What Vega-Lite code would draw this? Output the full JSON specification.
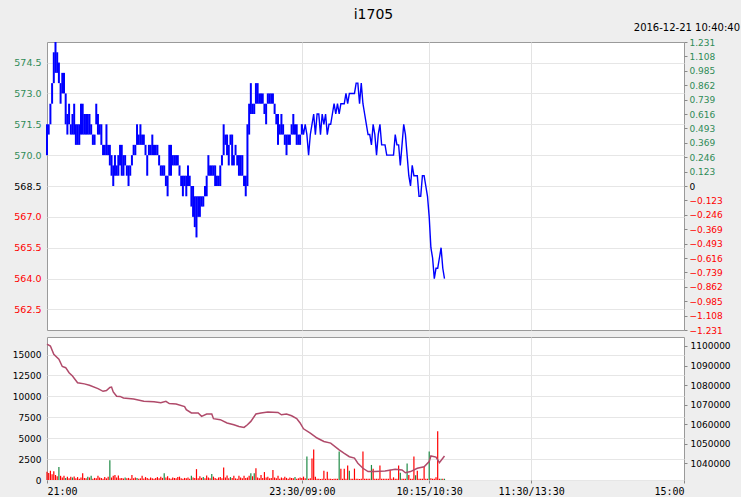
{
  "$schema": "https://vega.github.io/schema/vega-lite/v6.json",
  "background": "#eeeeee",
  "padding": {"left": 6, "top": 7, "right": 0, "bottom": 0},
  "title": {"text": "i1705", "anchor": "middle", "font": "DejaVu Sans", "fontSize": 14, "fontWeight": "normal", "color": "#000000", "offset": 1},
  "spacing": 0,
  "datasets": {
    "night": [
      {"t":0,"lo":570,"hi":571.5},{"t":1,"lo":571,"hi":571.5},{"t":2,"lo":571.5,"hi":572.5},{"t":3,"lo":572.5,"hi":573.5},
      {"t":4,"lo":573.5,"hi":575},{"t":5,"lo":574,"hi":575.5},{"t":6,"lo":574,"hi":575},{"t":7,"lo":573.5,"hi":574.5},
      {"t":8,"lo":572.5,"hi":573.5},{"t":9,"lo":573,"hi":574},{"t":10,"lo":573,"hi":574},{"t":11,"lo":571.5,"hi":573},
      {"t":12,"lo":571,"hi":572},{"t":13,"lo":571.5,"hi":572.5},{"t":14,"lo":571,"hi":571.5},{"t":15,"lo":571,"hi":572},
      {"t":16,"lo":571,"hi":572.5},{"t":17,"lo":570.5,"hi":571.5},{"t":18,"lo":570.5,"hi":571.5},{"t":19,"lo":570.5,"hi":571.5},
      {"t":20,"lo":571,"hi":572.5},{"t":21,"lo":571,"hi":572.5},{"t":22,"lo":571,"hi":572},{"t":23,"lo":571,"hi":572},
      {"t":24,"lo":571,"hi":572},{"t":25,"lo":571,"hi":572},{"t":26,"lo":571,"hi":571.5},{"t":27,"lo":570.5,"hi":571},
      {"t":28,"lo":570.5,"hi":571},{"t":29,"lo":571.5,"hi":572.5},{"t":30,"lo":571,"hi":572},{"t":31,"lo":571,"hi":571.5},
      {"t":32,"lo":570.5,"hi":571.5},{"t":33,"lo":570,"hi":570.5},{"t":34,"lo":570,"hi":570.5},{"t":35,"lo":570,"hi":571.5},
      {"t":36,"lo":570,"hi":570.5},{"t":37,"lo":569.5,"hi":570.5},{"t":38,"lo":569,"hi":570},{"t":39,"lo":568.5,"hi":569.5},
      {"t":40,"lo":569,"hi":570},{"t":41,"lo":569,"hi":569.5},{"t":42,"lo":569,"hi":570},{"t":43,"lo":569.5,"hi":570.5},
      {"t":44,"lo":569,"hi":570.5},{"t":45,"lo":569,"hi":570},{"t":46,"lo":569.5,"hi":570},{"t":47,"lo":569,"hi":569.5},
      {"t":48,"lo":568.5,"hi":569.5},{"t":49,"lo":569,"hi":569.5},{"t":50,"lo":569.5,"hi":570},{"t":51,"lo":570,"hi":570.5},
      {"t":52,"lo":570,"hi":570.5},{"t":53,"lo":570.5,"hi":571.5},{"t":54,"lo":570.5,"hi":571},{"t":55,"lo":570.5,"hi":571.5},
      {"t":56,"lo":570.5,"hi":571},{"t":57,"lo":570.5,"hi":571},{"t":58,"lo":570,"hi":570.5},{"t":59,"lo":569,"hi":570},
      {"t":60,"lo":570,"hi":570.5},{"t":61,"lo":570,"hi":570.5},{"t":62,"lo":570,"hi":571},{"t":63,"lo":570,"hi":570.5},
      {"t":64,"lo":570,"hi":570.5},{"t":65,"lo":570,"hi":570.5},{"t":66,"lo":569.5,"hi":570},{"t":67,"lo":569,"hi":569.5},
      {"t":68,"lo":569,"hi":569.5},{"t":69,"lo":569,"hi":569.5},{"t":70,"lo":568.5,"hi":569},{"t":71,"lo":568,"hi":569},
      {"t":72,"lo":569,"hi":570.5},{"t":73,"lo":569,"hi":570.5},{"t":74,"lo":569.5,"hi":570},{"t":75,"lo":569.5,"hi":570},
      {"t":76,"lo":569.5,"hi":570},{"t":77,"lo":569.5,"hi":570},{"t":78,"lo":569,"hi":569.5},{"t":79,"lo":568.5,"hi":569},
      {"t":80,"lo":568,"hi":569},{"t":81,"lo":568.5,"hi":569},{"t":82,"lo":568,"hi":569},{"t":83,"lo":568.5,"hi":569.5},
      {"t":84,"lo":568.5,"hi":569},{"t":85,"lo":567.5,"hi":568.5},{"t":86,"lo":567,"hi":568.5},{"t":87,"lo":566.5,"hi":568},
      {"t":88,"lo":566,"hi":568},{"t":89,"lo":567,"hi":568},{"t":90,"lo":567,"hi":568},{"t":91,"lo":567.5,"hi":568},
      {"t":92,"lo":567.5,"hi":568},{"t":93,"lo":568,"hi":568.5},{"t":94,"lo":568,"hi":569},{"t":95,"lo":569,"hi":570},
      {"t":96,"lo":569,"hi":569.5},{"t":97,"lo":569,"hi":569.5},{"t":98,"lo":569,"hi":569.5},{"t":99,"lo":568.5,"hi":569.5},
      {"t":100,"lo":568.5,"hi":569},{"t":101,"lo":568.5,"hi":569},{"t":102,"lo":568.5,"hi":569.5},{"t":103,"lo":569.5,"hi":570},
      {"t":104,"lo":570,"hi":571.5},{"t":105,"lo":570.5,"hi":571},{"t":106,"lo":570,"hi":571},{"t":107,"lo":569.5,"hi":570.5},
      {"t":108,"lo":570.5,"hi":571},{"t":109,"lo":569.5,"hi":571},{"t":110,"lo":569.5,"hi":570},{"t":111,"lo":570,"hi":570.5},
      {"t":112,"lo":569.5,"hi":570},{"t":113,"lo":569,"hi":570},{"t":114,"lo":569,"hi":570},{"t":115,"lo":569,"hi":570},
      {"t":116,"lo":568.5,"hi":569},{"t":117,"lo":568,"hi":569},{"t":118,"lo":568.5,"hi":571.5},{"t":119,"lo":571,"hi":572.5},
      {"t":120,"lo":572,"hi":573.5},{"t":121,"lo":572,"hi":572.5},{"t":122,"lo":572,"hi":572.5},{"t":123,"lo":572.5,"hi":573.5},
      {"t":124,"lo":572.5,"hi":573.5},{"t":125,"lo":572.5,"hi":573},{"t":126,"lo":572.5,"hi":573},{"t":127,"lo":572.5,"hi":573},
      {"t":128,"lo":572,"hi":572.5},{"t":129,"lo":571.5,"hi":572.5},{"t":130,"lo":572.5,"hi":573},{"t":131,"lo":572.5,"hi":573},
      {"t":132,"lo":572.5,"hi":573},{"t":133,"lo":572.5,"hi":573},{"t":134,"lo":572,"hi":572.5},{"t":135,"lo":571.5,"hi":572},
      {"t":136,"lo":570.5,"hi":572},{"t":137,"lo":571,"hi":571.5},{"t":138,"lo":571,"hi":572},{"t":139,"lo":571,"hi":571.5},
      {"t":140,"lo":570.5,"hi":571},{"t":141,"lo":570,"hi":571},{"t":142,"lo":570.5,"hi":571},{"t":143,"lo":570.5,"hi":571},
      {"t":144,"lo":571,"hi":571.5},{"t":145,"lo":571,"hi":572},{"t":146,"lo":571,"hi":571.5},{"t":147,"lo":570.5,"hi":571.5},
      {"t":148,"lo":570.5,"hi":571},{"t":149,"lo":570.5,"hi":571},{"t":150,"lo":571,"hi":571.5}
    ],
    "day": [
      {"t":150,"p":571.5},{"t":151,"p":571},{"t":152,"p":571.5},{"t":153,"p":571},{"t":154,"p":570},{"t":155,"p":571},
      {"t":156,"p":571.5},{"t":157,"p":572},{"t":158,"p":571},{"t":159,"p":572},{"t":160,"p":572},{"t":161,"p":571},
      {"t":162,"p":572},{"t":163,"p":571.5},{"t":164,"p":572},{"t":165,"p":571},{"t":166,"p":571.5},{"t":167,"p":571.5},
      {"t":168,"p":572},{"t":169,"p":572.5},{"t":170,"p":572},{"t":171,"p":572.5},{"t":172,"p":572},{"t":173,"p":572.5},
      {"t":174,"p":572.5},{"t":175,"p":572.5},{"t":176,"p":573},{"t":177,"p":572.5},{"t":178,"p":573},{"t":179,"p":573},
      {"t":180,"p":573},{"t":181,"p":573},{"t":182,"p":573.5},{"t":183,"p":573.5},{"t":184,"p":572.5},{"t":185,"p":573.5},
      {"t":186,"p":572.5},{"t":187,"p":572},{"t":188,"p":571.5},{"t":189,"p":571},{"t":190,"p":571},{"t":191,"p":570.5},
      {"t":192,"p":571.5},{"t":193,"p":571},{"t":194,"p":570},{"t":195,"p":571},{"t":196,"p":571.5},{"t":197,"p":570.5},
      {"t":198,"p":570.5},{"t":199,"p":570.5},{"t":200,"p":570},{"t":201,"p":570},{"t":202,"p":570},{"t":203,"p":570},
      {"t":204,"p":570},{"t":205,"p":571},{"t":206,"p":570.5},{"t":207,"p":570.5},{"t":208,"p":569.5},{"t":209,"p":570.5},
      {"t":210,"p":571.5},{"t":211,"p":571},{"t":212,"p":570},{"t":213,"p":569},{"t":214,"p":568.5},{"t":215,"p":569.5},
      {"t":216,"p":569},{"t":217,"p":569},{"t":218,"p":569},{"t":219,"p":568},{"t":220,"p":568},{"t":221,"p":569},
      {"t":222,"p":569},{"t":223,"p":568.5},{"t":224,"p":568},{"t":225,"p":567},{"t":226,"p":565.5},{"t":227,"p":565},
      {"t":228,"p":564},{"t":229,"p":564.5},{"t":230,"p":564.5},{"t":231,"p":565},{"t":232,"p":565.5},{"t":233,"p":564.5},
      {"t":234,"p":564}
    ],
    "vol": [
      {"t":0,"v":1000,"c":"r"},{"t":1,"v":850,"c":"r"},{"t":2,"v":1100,"c":"r"},{"t":3,"v":700,"c":"r"},{"t":4,"v":1050,"c":"r"},
      {"t":5,"v":600,"c":"r"},{"t":6,"v":450,"c":"r"},{"t":7,"v":1560,"c":"g"},{"t":8,"v":500,"c":"r"},{"t":9,"v":300,"c":"r"},
      {"t":10,"v":520,"c":"r"},{"t":11,"v":250,"c":"g"},{"t":12,"v":400,"c":"r"},{"t":13,"v":200,"c":"r"},{"t":14,"v":380,"c":"r"},
      {"t":15,"v":300,"c":"g"},{"t":16,"v":420,"c":"r"},{"t":17,"v":200,"c":"r"},{"t":18,"v":350,"c":"r"},{"t":19,"v":150,"c":"r"},
      {"t":20,"v":300,"c":"r"},{"t":21,"v":800,"c":"r"},{"t":22,"v":250,"c":"r"},{"t":23,"v":200,"c":"r"},{"t":24,"v":400,"c":"g"},
      {"t":25,"v":300,"c":"r"},{"t":26,"v":500,"c":"g"},{"t":27,"v":150,"c":"r"},{"t":28,"v":250,"c":"r"},{"t":29,"v":200,"c":"r"},
      {"t":30,"v":520,"c":"r"},{"t":31,"v":300,"c":"r"},{"t":32,"v":250,"c":"r"},{"t":33,"v":150,"c":"r"},{"t":34,"v":350,"c":"r"},
      {"t":35,"v":200,"c":"r"},{"t":36,"v":400,"c":"r"},{"t":37,"v":2350,"c":"g"},{"t":38,"v":300,"c":"r"},{"t":39,"v":520,"c":"r"},
      {"t":40,"v":600,"c":"r"},{"t":41,"v":300,"c":"r"},{"t":42,"v":550,"c":"r"},{"t":43,"v":200,"c":"r"},{"t":44,"v":250,"c":"r"},
      {"t":45,"v":180,"c":"r"},{"t":46,"v":300,"c":"g"},{"t":47,"v":200,"c":"r"},{"t":48,"v":250,"c":"r"},{"t":49,"v":150,"c":"r"},
      {"t":50,"v":600,"c":"r"},{"t":51,"v":200,"c":"r"},{"t":52,"v":300,"c":"r"},{"t":53,"v":250,"c":"g"},{"t":54,"v":150,"c":"r"},
      {"t":55,"v":200,"c":"r"},{"t":56,"v":500,"c":"r"},{"t":57,"v":180,"c":"r"},{"t":58,"v":350,"c":"r"},{"t":59,"v":250,"c":"r"},
      {"t":60,"v":150,"c":"r"},{"t":61,"v":300,"c":"r"},{"t":62,"v":200,"c":"r"},{"t":63,"v":150,"c":"r"},{"t":64,"v":250,"c":"r"},
      {"t":65,"v":350,"c":"r"},{"t":66,"v":200,"c":"r"},{"t":67,"v":400,"c":"r"},{"t":68,"v":250,"c":"r"},{"t":69,"v":800,"c":"g"},
      {"t":70,"v":300,"c":"r"},{"t":71,"v":450,"c":"r"},{"t":72,"v":200,"c":"r"},{"t":73,"v":150,"c":"r"},{"t":74,"v":300,"c":"r"},
      {"t":75,"v":250,"c":"r"},{"t":76,"v":200,"c":"r"},{"t":77,"v":350,"c":"r"},{"t":78,"v":400,"c":"r"},{"t":79,"v":200,"c":"r"},
      {"t":80,"v":150,"c":"r"},{"t":81,"v":250,"c":"r"},{"t":82,"v":200,"c":"r"},{"t":83,"v":300,"c":"r"},{"t":84,"v":150,"c":"r"},
      {"t":85,"v":520,"c":"g"},{"t":86,"v":300,"c":"r"},{"t":87,"v":250,"c":"r"},{"t":88,"v":1300,"c":"r"},{"t":89,"v":200,"c":"r"},
      {"t":90,"v":450,"c":"r"},{"t":91,"v":250,"c":"r"},{"t":92,"v":350,"c":"g"},{"t":93,"v":200,"c":"r"},{"t":94,"v":550,"c":"r"},
      {"t":95,"v":300,"c":"r"},{"t":96,"v":200,"c":"r"},{"t":97,"v":720,"c":"g"},{"t":98,"v":400,"c":"r"},{"t":99,"v":250,"c":"r"},
      {"t":100,"v":150,"c":"r"},{"t":101,"v":300,"c":"r"},{"t":102,"v":350,"c":"r"},{"t":103,"v":200,"c":"r"},{"t":104,"v":1500,"c":"r"},
      {"t":105,"v":300,"c":"r"},{"t":106,"v":550,"c":"r"},{"t":107,"v":200,"c":"r"},{"t":108,"v":350,"c":"g"},{"t":109,"v":250,"c":"r"},
      {"t":110,"v":500,"c":"r"},{"t":111,"v":200,"c":"r"},{"t":112,"v":150,"c":"r"},{"t":113,"v":520,"c":"r"},{"t":114,"v":300,"c":"r"},
      {"t":115,"v":200,"c":"r"},{"t":116,"v":520,"c":"r"},{"t":117,"v":250,"c":"r"},{"t":118,"v":300,"c":"r"},{"t":119,"v":500,"c":"r"},
      {"t":120,"v":800,"c":"g"},{"t":121,"v":450,"c":"r"},{"t":122,"v":800,"c":"g"},{"t":123,"v":1400,"c":"r"},{"t":124,"v":300,"c":"r"},
      {"t":125,"v":200,"c":"r"},{"t":126,"v":600,"c":"r"},{"t":127,"v":250,"c":"r"},{"t":128,"v":950,"c":"r"},{"t":129,"v":300,"c":"r"},
      {"t":130,"v":400,"c":"r"},{"t":131,"v":200,"c":"r"},{"t":132,"v":250,"c":"r"},{"t":133,"v":1200,"c":"r"},{"t":134,"v":300,"c":"r"},
      {"t":135,"v":200,"c":"r"},{"t":136,"v":500,"c":"r"},{"t":137,"v":150,"c":"r"},{"t":138,"v":300,"c":"r"},{"t":139,"v":200,"c":"r"},
      {"t":140,"v":400,"c":"r"},{"t":141,"v":250,"c":"r"},{"t":142,"v":150,"c":"r"},{"t":143,"v":300,"c":"r"},{"t":144,"v":250,"c":"r"},
      {"t":145,"v":200,"c":"r"},{"t":146,"v":350,"c":"g"},{"t":147,"v":150,"c":"r"},{"t":148,"v":200,"c":"r"},{"t":149,"v":300,"c":"r"},
      {"t":150,"v":250,"c":"r"},{"t":151,"v":400,"c":"r"},{"t":152,"v":200,"c":"r"},{"t":153,"v":2800,"c":"g"},{"t":154,"v":150,"c":"r"},
      {"t":155,"v":200,"c":"r"},{"t":156,"v":2560,"c":"r"},{"t":157,"v":3640,"c":"r"},{"t":158,"v":400,"c":"r"},{"t":159,"v":150,"c":"r"},
      {"t":160,"v":150,"c":"r"},{"t":161,"v":120,"c":"r"},{"t":162,"v":150,"c":"r"},{"t":163,"v":1120,"c":"r"},{"t":164,"v":150,"c":"r"},
      {"t":165,"v":1000,"c":"r"},{"t":166,"v":150,"c":"r"},{"t":167,"v":150,"c":"r"},{"t":168,"v":120,"c":"r"},{"t":169,"v":150,"c":"r"},
      {"t":170,"v":150,"c":"r"},{"t":171,"v":150,"c":"r"},{"t":172,"v":3400,"c":"g"},{"t":173,"v":1360,"c":"r"},{"t":174,"v":150,"c":"r"},
      {"t":175,"v":1360,"c":"r"},{"t":176,"v":150,"c":"r"},{"t":177,"v":1720,"c":"r"},{"t":178,"v":1120,"c":"g"},{"t":179,"v":150,"c":"r"},
      {"t":180,"v":150,"c":"r"},{"t":181,"v":1360,"c":"r"},{"t":182,"v":150,"c":"r"},{"t":183,"v":150,"c":"r"},{"t":184,"v":120,"c":"r"},
      {"t":185,"v":150,"c":"r"},{"t":186,"v":3400,"c":"r"},{"t":187,"v":150,"c":"r"},{"t":188,"v":150,"c":"r"},{"t":189,"v":150,"c":"r"},
      {"t":190,"v":150,"c":"r"},{"t":191,"v":1800,"c":"g"},{"t":192,"v":1360,"c":"r"},{"t":193,"v":150,"c":"r"},{"t":194,"v":150,"c":"r"},
      {"t":195,"v":150,"c":"r"},{"t":196,"v":1720,"c":"r"},{"t":197,"v":150,"c":"r"},{"t":198,"v":150,"c":"r"},{"t":199,"v":150,"c":"r"},
      {"t":200,"v":150,"c":"r"},{"t":201,"v":150,"c":"r"},{"t":202,"v":1240,"c":"r"},{"t":203,"v":150,"c":"r"},{"t":204,"v":320,"c":"r"},
      {"t":205,"v":150,"c":"r"},{"t":206,"v":150,"c":"r"},{"t":207,"v":1720,"c":"r"},{"t":208,"v":880,"c":"g"},{"t":209,"v":150,"c":"r"},
      {"t":210,"v":150,"c":"r"},{"t":211,"v":150,"c":"r"},{"t":212,"v":1960,"c":"g"},{"t":213,"v":600,"c":"r"},{"t":214,"v":150,"c":"r"},
      {"t":215,"v":150,"c":"r"},{"t":216,"v":2800,"c":"r"},{"t":217,"v":560,"c":"g"},{"t":218,"v":1120,"c":"r"},{"t":219,"v":150,"c":"r"},
      {"t":220,"v":150,"c":"r"},{"t":221,"v":150,"c":"r"},{"t":222,"v":1600,"c":"r"},{"t":223,"v":150,"c":"r"},{"t":224,"v":150,"c":"r"},
      {"t":225,"v":3400,"c":"g"},{"t":226,"v":200,"c":"r"},{"t":227,"v":150,"c":"r"},{"t":228,"v":150,"c":"r"},{"t":229,"v":320,"c":"r"},
      {"t":230,"v":5840,"c":"r"},{"t":231,"v":150,"c":"r"},{"t":232,"v":150,"c":"g"},{"t":233,"v":150,"c":"r"},{"t":234,"v":150,"c":"g"}
    ],
    "oi": [
      {"t":0,"oi":1101000},{"t":2,"oi":1100000},{"t":4,"oi":1095700},{"t":7,"oi":1093200},{"t":9,"oi":1089500},{"t":11,"oi":1088900},
      {"t":13,"oi":1086300},{"t":15,"oi":1084600},{"t":18,"oi":1081200},{"t":22,"oi":1080600},{"t":25,"oi":1079900},{"t":30,"oi":1078200},
      {"t":33,"oi":1076800},{"t":35,"oi":1077200},{"t":37,"oi":1078800},{"t":38,"oi":1079000},{"t":39,"oi":1076500},{"t":41,"oi":1074300},
      {"t":43,"oi":1074200},{"t":45,"oi":1073400},{"t":51,"oi":1072900},{"t":57,"oi":1071700},{"t":63,"oi":1071400},{"t":67,"oi":1070900},
      {"t":70,"oi":1071700},{"t":72,"oi":1070500},{"t":76,"oi":1070300},{"t":81,"oi":1069000},{"t":82,"oi":1067400},{"t":85,"oi":1065700},
      {"t":89,"oi":1065700},{"t":91,"oi":1064000},{"t":94,"oi":1065200},{"t":97,"oi":1065200},{"t":98,"oi":1062800},{"t":102,"oi":1062300},
      {"t":106,"oi":1060600},{"t":110,"oi":1059700},{"t":113,"oi":1058800},{"t":116,"oi":1058300},{"t":118,"oi":1059700},{"t":120,"oi":1061400},
      {"t":123,"oi":1065200},{"t":126,"oi":1065700},{"t":130,"oi":1066200},{"t":136,"oi":1066000},{"t":138,"oi":1064800},{"t":141,"oi":1065200},
      {"t":144,"oi":1064300},{"t":147,"oi":1062800},{"t":149,"oi":1060600},{"t":151,"oi":1057600},{"t":155,"oi":1055400},{"t":159,"oi":1052900},
      {"t":163,"oi":1051100},{"t":167,"oi":1050300},{"t":172,"oi":1046800},{"t":175,"oi":1045000},{"t":178,"oi":1043300},{"t":181,"oi":1042600},
      {"t":183,"oi":1040000},{"t":186,"oi":1037400},{"t":189,"oi":1035700},{"t":193,"oi":1035700},{"t":199,"oi":1036000},{"t":205,"oi":1036900},
      {"t":209,"oi":1036500},{"t":211,"oi":1035100},{"t":214,"oi":1035700},{"t":218,"oi":1037400},{"t":222,"oi":1038200},{"t":225,"oi":1040800},
      {"t":226,"oi":1043700},{"t":229,"oi":1043100},{"t":231,"oi":1040300},{"t":234,"oi":1043700}
    ]
  },
  "vconcat": [
    {
      "width": 637,
      "height": 288,
      "title": {"text": "2016-12-21 10:40:40", "anchor": "end", "frame": "group", "dx": 56, "offset": 5, "font": "DejaVu Sans", "fontSize": 10, "fontWeight": "normal", "color": "#000000"},
      "layer": [
        {
          "mark": {"type": "rule", "color": "#8c8c8c", "strokeWidth": 1},
          "encoding": {
            "y": {"datum": 0, "type": "quantitative", "scale": {"domain": [-1.23131, 1.23131], "nice": false, "zero": false},
              "axis": {"orient": "right", "title": null, "grid": false, "domain": false, "ticks": true, "tickSize": 3, "tickColor": "#888888",
                "values": [-1.23131,-1.108179,-0.985048,-0.861917,-0.738786,-0.615655,-0.492524,-0.369393,-0.246262,-0.123131,0,0.123131,0.246262,0.369393,0.492524,0.615655,0.738786,0.861917,0.985048,1.108179,1.23131],
                "labelExpr": "abs(datum.value) < 0.001 ? '0' : format(datum.value, '.3f')",
                "labelFont": "DejaVu Sans", "labelFontSize": 9, "labelPadding": 2, "labelOverlap": false,
                "labelColor": {"condition": [{"test": "datum.value > 0.001", "value": "#2e8b57"}, {"test": "datum.value < -0.001", "value": "#ff0000"}], "value": "#000000"}}}
          }
        },
        {
          "layer": [
            {
              "data": {"name": "night"},
              "mark": {"type": "rule", "color": "#0000ff", "strokeWidth": 2},
              "encoding": {
                "x": {"field": "t", "type": "quantitative", "scale": {"domain": [0, 375], "nice": false, "zero": false},
                  "axis": {"title": null, "values": [150, 225, 285], "labels": false, "ticks": false, "domain": false, "grid": true, "gridColor": "#e3e3e3", "minExtent": 0, "maxExtent": 0}},
                "y": {"field": "lo", "type": "quantitative", "scale": {"domain": [561.5, 575.5], "nice": false, "zero": false},
                  "axis": {"title": null, "values": [562.5, 564, 565.5, 567, 568.5, 570, 571.5, 573, 574.5], "format": ".1f", "ticks": false, "domain": false,
                    "grid": true, "gridColor": "#e6e6e6", "labelFont": "DejaVu Sans", "labelFontSize": 9.5, "labelPadding": 6, "minExtent": 40, "maxExtent": 40, "labelOverlap": false,
                    "labelColor": {"condition": [{"test": "datum.value > 568.51", "value": "#2e8b57"}, {"test": "datum.value < 568.49", "value": "#ff0000"}], "value": "#000000"}}},
                "y2": {"field": "hi"}
              }
            },
            {
              "data": {"name": "day"},
              "mark": {"type": "line", "color": "#0000ff", "strokeWidth": 1.4},
              "encoding": {
                "x": {"field": "t", "type": "quantitative",
                  "axis": {"title": null, "values": [150, 225, 285], "labels": false, "ticks": false, "domain": false, "grid": true, "gridColor": "#e3e3e3", "minExtent": 0, "maxExtent": 0}},
                "y": {"field": "p", "type": "quantitative",
                  "axis": {"title": null, "values": [562.5, 564, 565.5, 567, 568.5, 570, 571.5, 573, 574.5], "format": ".1f", "ticks": false, "domain": false,
                    "grid": true, "gridColor": "#e6e6e6", "labelFont": "DejaVu Sans", "labelFontSize": 9.5, "labelPadding": 6, "minExtent": 40, "maxExtent": 40, "labelOverlap": false,
                    "labelColor": {"condition": [{"test": "datum.value > 568.51", "value": "#2e8b57"}, {"test": "datum.value < 568.49", "value": "#ff0000"}], "value": "#000000"}}}
              }
            }
          ]
        }
      ],
      "resolve": {"scale": {"y": "independent"}}
    },
    {
      "width": 637,
      "height": 143,
      "layer": [
        {
          "data": {"name": "vol"},
          "mark": {"type": "rule", "strokeWidth": 1.2},
          "encoding": {
            "x": {"field": "t", "type": "quantitative", "scale": {"domain": [0, 375], "nice": false, "zero": false},
              "axis": {"title": null, "values": [0, 150, 225, 285, 375],
                "labelExpr": "datum.value == 0 ? '21:00' : datum.value == 150 ? '23:30/09:00' : datum.value == 225 ? '10:15/10:30' : datum.value == 285 ? '11:30/13:30' : '15:00'",
                "labelFlush": true, "labelFont": "DejaVu Sans Mono", "labelFontSize": 10, "labelColor": "#000000", "labelPadding": 3,
                "ticks": true, "tickSize": 3, "tickColor": "#888888", "domain": false, "grid": true, "gridColor": "#e3e3e3",
                "gridOpacity": {"condition": {"test": "datum.value == 0 || datum.value == 375", "value": 0}, "value": 1}}},
            "y": {"field": "v", "type": "quantitative", "scale": {"domain": [0, 17100], "nice": false},
              "axis": {"title": null, "values": [0, 2500, 5000, 7500, 10000, 12500, 15000], "format": "d", "ticks": false, "domain": false, "labelOverlap": false,
                "grid": true, "gridColor": "#e6e6e6", "labelFont": "DejaVu Sans", "labelFontSize": 9, "labelColor": "#000000", "labelPadding": 6, "minExtent": 40, "maxExtent": 40}},
            "y2": {"datum": 0},
            "color": {"field": "c", "type": "nominal", "scale": {"domain": ["r", "g"], "range": ["#ff0000", "#1e8a46"]}, "legend": null}
          }
        },
        {
          "data": {"name": "oi"},
          "mark": {"type": "line", "color": "#b04a6a", "strokeWidth": 1.5},
          "encoding": {
            "x": {"field": "t", "type": "quantitative"},
            "y": {"field": "oi", "type": "quantitative", "scale": {"domain": [1031400, 1104600], "nice": false, "zero": false},
              "axis": {"orient": "right", "title": null, "values": [1040000, 1050000, 1060000, 1070000, 1080000, 1090000, 1100000], "format": "d", "labelOverlap": false,
                "ticks": true, "tickSize": 3, "tickColor": "#888888", "domain": false, "grid": false, "labelFont": "DejaVu Sans", "labelFontSize": 9, "labelColor": "#000000", "labelPadding": 3}}
          }
        }
      ],
      "resolve": {"scale": {"y": "independent"}}
    }
  ],
  "config": {
    "view": {"stroke": "#9a9a9a", "fill": "#ffffff"},
    "axis": {"labelOverlap": false}
  }
}
